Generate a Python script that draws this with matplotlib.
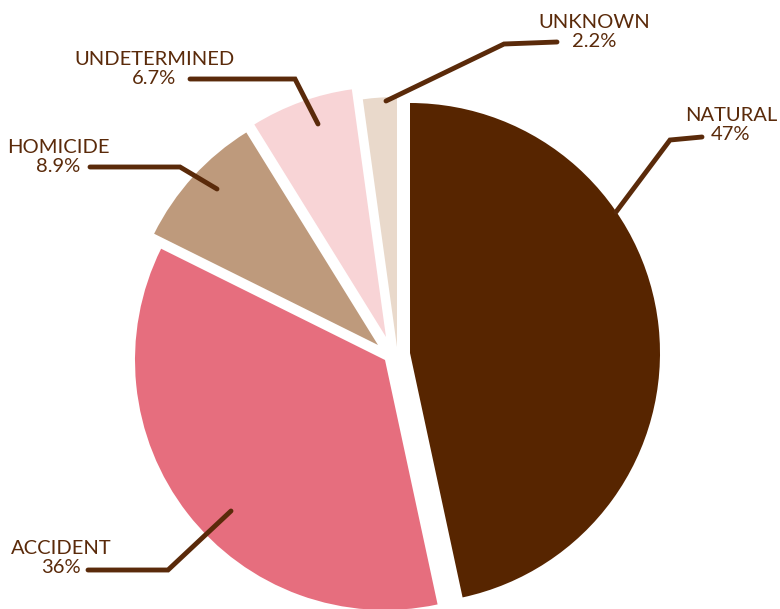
import matplotlib
matplotlib.use("Agg")
import matplotlib.pyplot as plt

# manner of death shares (%)
categories = ["NATURAL", "ACCIDENT", "HOMICIDE", "UNDETERMINED", "UNKNOWN"]
shares = [47, 36, 8.9, 6.7, 2.2]
pct_labels = ["47%", "36%", "8.9%", "6.7%", "2.2%"]
colors = ["#572500", "#E66E7E", "#BE9A7C", "#F8D4D6", "#E9D9CB"]

ink = "#5A2A0A"
plt.rcParams["font.family"] = ["Lato", "DejaVu Sans"]

fig = plt.figure(figsize=(7.8, 6.09), dpi=100)
ax = fig.add_axes([0, 0, 1, 1])

# pixel-like coordinates, y pointing down -> counterclock in data = clockwise on screen
wedges, _ = ax.pie(shares, colors=colors, startangle=-90, counterclock=True,
                   center=(396, 352), radius=250,
                   wedgeprops=dict(linewidth=0))

# hand-placed slice centres (the slices are pulled apart a little)
slice_centers = [(410, 353), (385, 360), (378, 345), (386, 337), (397, 347)]
for w, c in zip(wedges, slice_centers):
    w.set_center(c)

# label text position and leader line (text end -> elbow -> slice)
label_pos = [(731, 125), (61, 558), (58, 157), (154, 69), (594, 32)]
leaders = [
    [(702, 137), (670, 140), (616, 212)],
    [(88, 570), (168, 570), (231, 511)],
    [(90, 167), (180, 167), (217, 189)],
    [(190, 79), (295, 79), (318, 124)],
    [(557, 42), (504, 44), (386, 101)],
]

for name, pct, (tx, ty), pts in zip(categories, pct_labels, label_pos, leaders):
    ax.text(tx, ty, name + "\n" + pct, ha="center", va="center",
            multialignment="center", fontsize=14.5, color=ink, linespacing=1.15)
    xs = [p[0] for p in pts]
    ys = [p[1] for p in pts]
    ax.plot(xs, ys, color=ink, lw=3.5, solid_capstyle="round",
            solid_joinstyle="miter")

ax.set_xlim(0, 780)
ax.set_ylim(609, 0)
ax.set_aspect("auto")
ax.axis("off")

fig.savefig("out.png", dpi=100)
